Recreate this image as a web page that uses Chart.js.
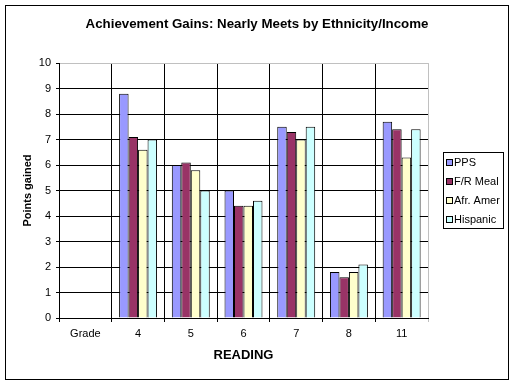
<!DOCTYPE html>
<html><head><meta charset="utf-8">
<script src="https://cdn.jsdelivr.net/npm/chart.js@4/dist/chart.umd.min.js"></script>
<style>html,body{margin:0;padding:0;background:#fff}#wrap{width:514px;height:384px}</style>
</head><body><div id="wrap"><canvas id="c" width="514" height="384"></canvas></div>
<script>
const categories = ["Grade", "4", "5", "6", "7", "8", "11"];
const seriesNames = ["PPS", "F/R Meal", "Afr. Amer", "Hispanic"];
const pps      = [null, 8.8, 6.0, 5.0, 7.5, 1.8, 7.7];
const frMeal   = [null, 7.1, 6.1, 4.4, 7.3, 1.6, 7.4];
const afrAmer  = [null, 6.6, 5.8, 4.4, 7.0, 1.8, 6.3];
const hispanic = [null, 7.0, 5.0, 4.6, 7.5, 2.1, 7.4];
const yTicks = [0,1,2,3,4,5,6,7,8,9,10];
const colors = ["#9999FF", "#993366", "#FFFFCC", "#CCFFFF"];
const FONT = "'Liberation Sans', Arial, sans-serif";

const frame = {
  id: 'frame',
  afterDraw(chart) {
    const ctx = chart.ctx;
    ctx.save();
    ctx.strokeStyle = '#000'; ctx.lineWidth = 1;
    ctx.strokeRect(5.5, 5.5, 503, 374);
    // legend
    const lx = 443.5, ly = 152.5, lw = 60, lh = 76;
    ctx.strokeRect(lx, ly, lw, lh);
    ctx.font = "11px " + FONT;
    ctx.textBaseline = 'middle';
    chart.data.datasets.forEach((ds, i) => {
      const cy = 163 + i * 19;
      ctx.fillStyle = ds.backgroundColor;
      ctx.fillRect(446.5, cy - 3.5, 6, 6);
      ctx.strokeRect(446.5, cy - 3.5, 6, 6);
      ctx.fillStyle = '#000';
      ctx.fillText(ds.label, 454, cy);
    });
    ctx.restore();
  }
};

new Chart(document.getElementById('c'), {
  type: 'bar',
  data: {
    labels: categories,
    datasets: [
      {label: seriesNames[0], data: pps, backgroundColor: colors[0]},
      {label: seriesNames[1], data: frMeal, backgroundColor: colors[1]},
      {label: seriesNames[2], data: afrAmer, backgroundColor: colors[2]},
      {label: seriesNames[3], data: hispanic, backgroundColor: colors[3]}
    ].map(d => Object.assign(d, {borderColor: '#000', borderWidth: 1, categoryPercentage: 0.72, barPercentage: 1.0}))
  },
  options: {
    responsive: false,
    animation: false,
    events: [],
    layout: {padding: {left: 6, right: 6, top: 8, bottom: 6}},
    plugins: {
      legend: {display: false},
      tooltip: {enabled: false},
      title: {display: true, text: 'Achievement Gains: Nearly Meets by Ethnicity/Income', color: '#000',
        font: {family: FONT, size: 13.3, weight: 'bold'}, padding: {top: 8, bottom: 31.1}}
    },
    scales: {
      x: {
        grid: {color: c => c.tick ? '#000' : '#c0c0c0', tickColor: c => c.tick ? '#000' : '#c0c0c0', tickLength: 4, offset: true},
        border: {color: '#000'},
        ticks: {color: '#000', font: {family: FONT, size: 11}, padding: 5, maxRotation: 0},
        title: {display: true, text: 'READING', color: '#000', font: {family: FONT, size: 13, weight: 'bold'}, padding: {top: 0, bottom: 15}},
        afterFit: s => { s.height = 60; }
      },
      y: {
        min: 0, max: 10,
        afterBuildTicks: s => { s.ticks = yTicks.map(v => ({value: v})); },
        grid: {color: c => c.tick && c.tick.value === 10 ? '#c0c0c0' : '#000', tickColor: '#000', tickLength: 3},
        border: {color: '#000'},
        ticks: {color: '#000', font: {family: FONT, size: 11}, padding: 5},
        title: {display: true, text: 'Points gained', color: '#000', font: {family: FONT, size: 11, weight: 'bold'}, padding: {top: 15, bottom: 0}},
        afterFit: s => { s.width = 53; }
      },
      yR: {
        type: 'linear', position: 'right', min: 0, max: 10,
        grid: {display: false, drawTicks: false}, border: {display: false},
        ticks: {display: false},
        afterFit: s => { s.width = 80; }
      }
    }
  },
  plugins: [frame]
});
</script></body></html>
